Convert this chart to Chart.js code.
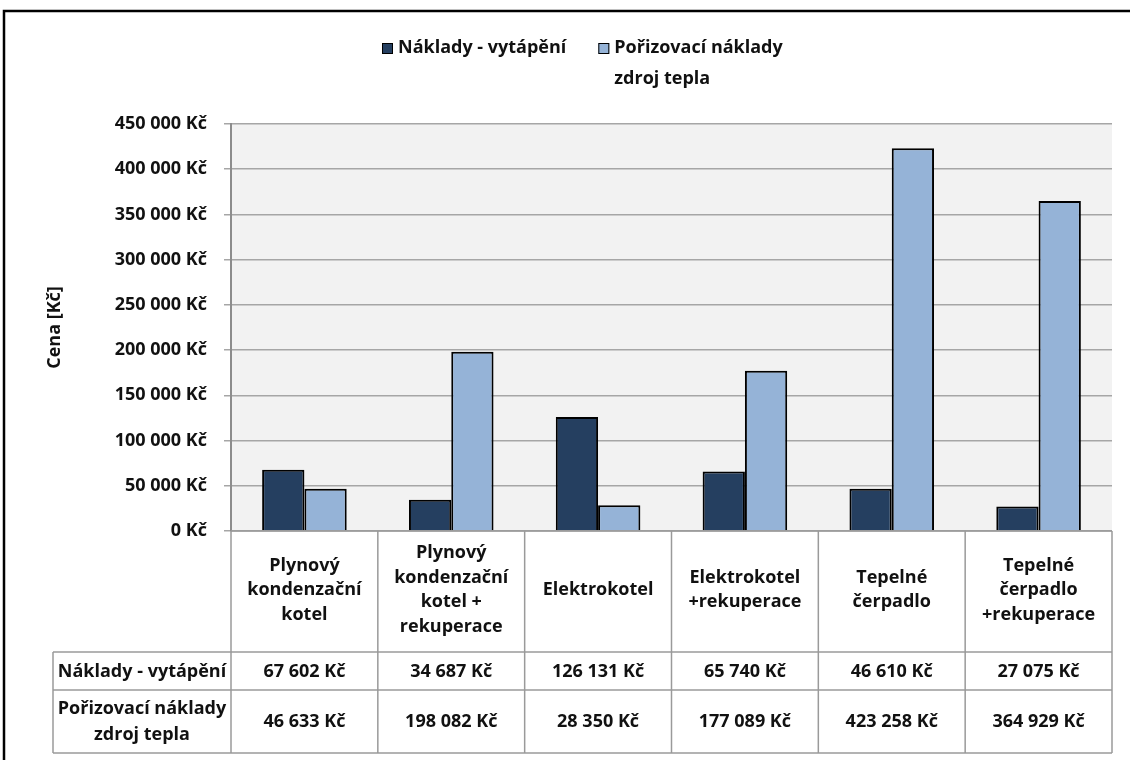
<!DOCTYPE html>
<html>
<head>
<meta charset="utf-8">
<script src="https://cdn.jsdelivr.net/npm/chart.js@4"></script>
<style>
  html, body { margin: 0; padding: 0; background: #fff; }
  #wrap { width: 1130px; height: 760px; }
</style>
</head>
<body>
<div id="wrap"><canvas id="chart" width="1130" height="760"></canvas></div>
<script>
const categories = [
  ["Plynový", "kondenzační", "kotel"],
  ["Plynový", "kondenzační", "kotel +", "rekuperace"],
  ["Elektrokotel"],
  ["Elektrokotel", "+rekuperace"],
  ["Tepelné", "čerpadlo"],
  ["Tepelné", "čerpadlo", "+rekuperace"]
];
const seriesNames = [["Náklady - vytápění"], ["Pořizovací náklady", "zdroj tepla"]];
const nakladyVytapeni = [67602, 34687, 126131, 65740, 46610, 27075];
const porizovaciNaklady = [46633, 198082, 28350, 177089, 423258, 364929];
const yTicks = [0, 50000, 100000, 150000, 200000, 250000, 300000, 350000, 400000, 450000];

const DARK = "#253F60";
const LIGHT = "#95B3D7";
const FONT = "'Open Sans', 'Noto Sans', sans-serif";
const TEXT = "#111";

const fmt = v => String(v).replace(/\B(?=(\d{3})+(?!\d))/g, " ") + " Kč";

Chart.defaults.font.family = FONT;
Chart.defaults.font.size = 18;
Chart.defaults.font.weight = "bold";
Chart.defaults.color = TEXT;

// frame, plot background, legend and data table
const excelLook = {
  id: "excelLook",
  beforeDraw(chart) {
    const { ctx, chartArea: a } = chart;
    ctx.save();
    ctx.fillStyle = "#F2F2F2";
    ctx.fillRect(a.left, a.top, a.right - a.left, a.bottom - a.top);
    ctx.restore();
  },
  afterDraw(chart) {
    const { ctx, chartArea: a } = chart;
    const xs = chart.scales.x;
    const ds = chart.data.datasets;
    ctx.save();

    // outer frame
    ctx.strokeStyle = "#000";
    ctx.lineWidth = 2.5;
    ctx.strokeRect(4, 11, 1300, 1000);

    ctx.font = "bold 18px " + FONT;
    ctx.fillStyle = TEXT;
    ctx.textBaseline = "middle";

    // legend
    let lx = 382;
    ds.forEach((d, i) => {
      ctx.fillStyle = d.backgroundColor;
      ctx.fillRect(lx, 43, 11, 11);
      ctx.strokeStyle = "#000";
      ctx.lineWidth = 1;
      ctx.strokeRect(lx + 0.5, 43.5, 10, 10);
      ctx.fillStyle = TEXT;
      ctx.textAlign = "left";
      let w = 0;
      seriesNames[i].forEach((line, j) => {
        ctx.fillText(line, lx + 16, 48 + j * 31);
        w = Math.max(w, ctx.measureText(line).width);
      });
      lx += 16 + w + 32;
    });

    // data table
    const colW = (a.right - a.left) / categories.length;
    const labelLeft = 53;
    const headBottom = 652, row1Bottom = 690, row2Bottom = 753;
    ctx.strokeStyle = "#9A9A9A";
    ctx.lineWidth = 1.5;
    ctx.beginPath();
    // horizontal lines
    ctx.moveTo(a.left, a.bottom); ctx.lineTo(a.right, a.bottom);
    [headBottom, row1Bottom, row2Bottom].forEach(y => {
      ctx.moveTo(labelLeft, y); ctx.lineTo(a.right, y);
    });
    // vertical lines
    ctx.moveTo(labelLeft, headBottom); ctx.lineTo(labelLeft, row2Bottom);
    for (let i = 0; i <= categories.length; i++) {
      const x = a.left + i * colW;
      ctx.moveTo(x, a.bottom); ctx.lineTo(x, row2Bottom);
    }
    ctx.stroke();

    ctx.fillStyle = TEXT;
    ctx.textAlign = "center";
    const labelMid = (labelLeft + a.left) / 2;
    const r1 = (headBottom + row1Bottom) / 2;
    const r2 = (row1Bottom + row2Bottom) / 2;
    ctx.fillText(seriesNames[0][0], labelMid, r1 + 1);
    seriesNames[1].forEach((line, j) => ctx.fillText(line, labelMid, r2 - 13 + j * 26));

    categories.forEach((lines, i) => {
      const cx = xs.getPixelForValue(i);
      const top = 590 - (lines.length - 1) * 24.5 / 2;
      lines.forEach((line, j) => ctx.fillText(line, cx, top + j * 24.5));
      ctx.fillText(fmt(ds[0].data[i]), cx, r1 + 1);
      ctx.fillText(fmt(ds[1].data[i]), cx, r2);
    });
    ctx.restore();
  }
};

new Chart(document.getElementById("chart"), {
  type: "bar",
  data: {
    labels: categories,
    datasets: [
      {
        label: seriesNames[0].join(" "),
        data: nakladyVytapeni,
        backgroundColor: DARK,
        borderColor: "#000",
        borderWidth: 2
      },
      {
        label: seriesNames[1].join(" "),
        data: porizovaciNaklady,
        backgroundColor: LIGHT,
        borderColor: "#000",
        borderWidth: 2
      }
    ]
  },
  options: {
    responsive: false,
    animation: false,
    devicePixelRatio: 1,
    categoryPercentage: 0.576,
    barPercentage: 1,
    layout: { padding: { top: 124, right: 18, bottom: 229, left: 30 } },
    plugins: {
      legend: { display: false },
      tooltip: { enabled: false }
    },
    scales: {
      x: { display: false },
      y: {
        min: 0,
        max: 450000,
        afterBuildTicks: s => { s.ticks = yTicks.map(v => ({ value: v })); },
        afterFit: s => { s.width = 201; },
        ticks: {
          padding: 17,
          color: TEXT,
          font: { size: 18, weight: "bold" },
          callback: v => fmt(v)
        },
        grid: { color: "#A6A6A6", lineWidth: 1.5, tickLength: 7 },
        border: { color: "#8C8C8C", width: 2 },
        title: {
          display: true,
          text: "Cena [Kč]",
          color: TEXT,
          font: { size: 18, weight: "bold" },
          padding: { top: 14, bottom: 0 }
        }
      }
    }
  },
  plugins: [excelLook]
});
</script>
</body>
</html>
